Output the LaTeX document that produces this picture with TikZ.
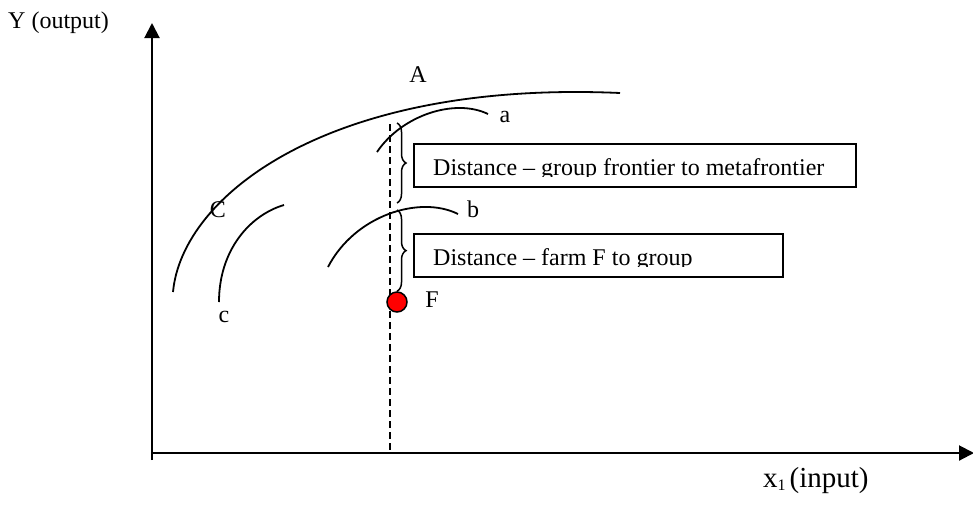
\documentclass[tikz,border=0pt]{standalone}
\usepackage{fontspec}
\setmainfont{Liberation Serif}
\usetikzlibrary{arrows.meta,decorations.pathreplacing}
\begin{document}
\begin{tikzpicture}[x=1pt,y=-1pt,
  lbl/.style={inner sep=0pt, font=\fontsize{24}{28}\selectfont},
  axisline/.style={line width=2pt, -{Triangle[length=15pt,width=15pt]}},
  frontier/.style={line width=1.8pt},
  textbox/.style={draw, line width=2pt, inner sep=0pt, anchor=north west},
  dist/.style={line width=1.5pt, decorate, decoration={brace, amplitude=9pt}},
  guide/.style={line width=2pt, dash pattern=on 7pt off 4pt}]
\useasboundingbox (0,0) rectangle (973,504);
% axes
\coordinate (O) at (152,453);
\coordinate (ybot) at (152,460);
\coordinate (ytop) at (152,23);
\coordinate (xend) at (974,453);
\draw[axisline] (ybot) -- (ytop);
\draw[axisline] (O) -- (xend);
\node[lbl, anchor=base west] (ylab) at (8,28) {Y (output)};
\node[lbl, anchor=base west, font=\fontsize{29}{32}\selectfont] (xlab) at (763,487)
  {x\raisebox{-3pt}{\fontsize{16}{16}\selectfont 1}\hspace{4pt}(input)};
% frontiers
\draw[frontier] (173,292) .. controls (182,195) and (330,80) .. (620,93);
\draw[frontier] (377,152) .. controls (402,115) and (455,98) .. (488,114);
\draw[frontier] (328,267) .. controls (355,215) and (420,195) .. (458,214);
\draw[frontier] (219,302) .. controls (219,250) and (250,215) .. (284,205);
\node[lbl, anchor=base] (lA) at (418,82) {A};
\node[lbl, anchor=base] (la) at (505,122) {a};
\node[lbl, anchor=base] (lb) at (473,217) {b};
\node[lbl, anchor=base] (lC) at (218,217) {C};
\node[lbl, anchor=base] (lc) at (224,322) {c};
% guide line and farm
\coordinate (dtop) at (390,124);
\draw[guide] (dtop) -- (dtop |- O);
\node[circle, draw, fill=red, line width=1.5pt, minimum size=20pt, inner sep=0pt] (F) at (397,302) {};
\node[lbl, anchor=base] (lF) at (432,307) {F};
% braces
\coordinate (b1top) at (397,123);
\coordinate (b1bot) at (397,203);
\coordinate (b2top) at (397,210);
\draw[dist] (b1top) -- (b1bot);
\draw[dist] (b2top) -- (F.north);
% boxes
\node[textbox, minimum width=442pt, minimum height=43pt] (box1) at (413,143) {};
\node[textbox, minimum width=369pt, minimum height=43pt] (box2) at (413,233) {};
\begin{scope}
  \clip (414,144) rectangle (854,176.5);
  \node[lbl, anchor=base west] (t1) at (433,175) {Distance -- group frontier to metafrontier};
\end{scope}
\begin{scope}
  \clip (414,234) rectangle (781,266.5);
  \node[lbl, anchor=base west] (t2) at (433,265) {Distance -- farm F to group};
\end{scope}
\end{tikzpicture}
\end{document}
